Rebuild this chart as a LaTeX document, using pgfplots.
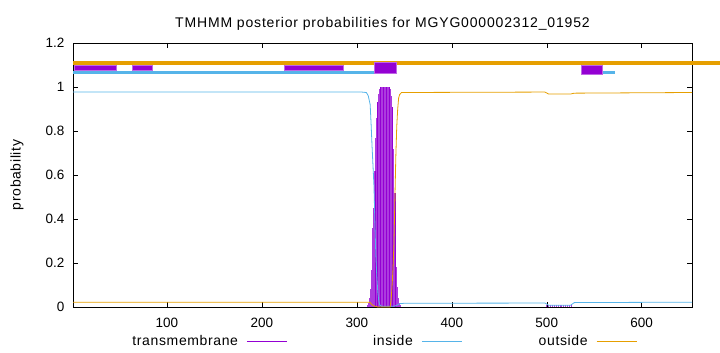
\documentclass[border=0pt]{standalone}
\usepackage{pgfplots}
\pgfplotsset{compat=1.18}
\usepackage{fontspec}
\setmainfont{Liberation Sans}
\newfontfamily\lblfont[LetterSpace=4.5]{Liberation Sans}
\newfontfamily\ttlfont[LetterSpace=6]{Liberation Sans}
\definecolor{tmcol}{RGB}{148,0,211}
\definecolor{tmfill}{RGB}{172,60,222}
\definecolor{incol}{RGB}{86,180,233}
\definecolor{outcol}{RGB}{230,159,0}
\pgfplotsset{/pgfplots/legend image code/.code={\draw[#1] (0bp,0bp) -- (40bp,0bp);}}
\begin{document}
\fontsize{13.5bp}{16bp}\selectfont
\begin{tikzpicture}[x=1bp,y=1bp]
\useasboundingbox (0,0) rectangle (720,352);
\begin{axis}[
  at={(73bp,45bp)}, anchor=south west, scale only axis,
  width=619bp, height=264bp,
  xmin=1, xmax=653, ymin=0, ymax=1.2,
  clip=false,
  xtick={100,200,300,400,500,600},
  ytick={0,0.2,0.4,0.6,0.8,1,1.2},
  yticklabels={0,0.2,0.4,0.6,0.8,1,1.2},
  /pgf/number format/assume math mode=true,
  tick align=inside, major tick length=5bp,
  every tick/.style={black, line width=0.5bp},
  axis line style={black, line width=0.8bp},
  tick label style={font=\fontsize{13.5bp}{16bp}\selectfont},
  xticklabel style={yshift=-6bp},
  yticklabel style={xshift=-4bp},
  title={TMHMM posterior probabilities for MGYG000002312\_01952},
  every axis title/.style={at={(axis description cs:0.5,1)}, anchor=base, yshift=15.7bp, font=\fontsize{14bp}{16bp}\ttlfont},
  ylabel={probability},
  ylabel style={at={(axis description cs:-0.0905,0.5)}, anchor=center, rotate=0, font=\fontsize{14bp}{16bp}\lblfont},
  legend columns=3,
  legend style={draw=none, fill=none, at={(axis description cs:0.5,-0.129)}, anchor=center,
    font=\fontsize{14bp}{16bp}\lblfont, nodes={inner sep=0pt},
    /tikz/every odd column/.append style={column sep=8.5bp},
    /tikz/every even column/.append style={column sep=15.5bp}},
  legend plot pos=right,
]
\addlegendimage{tmcol, line width=0.8bp}
\addlegendentry{\makebox[110bp][r]{transmembrane}}
\addlegendimage{incol, line width=0.8bp}
\addlegendentry{\makebox[110bp][r]{inside}}
\addlegendimage{outcol, line width=0.8bp}
\addlegendentry{\makebox[110bp][r]{outside}}

% top tracks
\addplot[forget plot, outcol, line width=4bp] coordinates {(1,1.108) (682,1.108)};
\addplot[forget plot, incol, line width=3bp] coordinates {(1,1.068) (318,1.068)};
\addplot[forget plot, incol, line width=3bp] coordinates {(559,1.065) (572,1.065)};
% boxes
\addplot[forget plot, fill=tmcol, draw=tmcol!60!white, line width=0.6bp] coordinates {(2,1.074) (47,1.074) (47,1.097) (2,1.097)} -- cycle;
\addplot[forget plot, fill=tmcol, draw=tmcol!60!white, line width=0.6bp] coordinates {(63,1.074) (85,1.074) (85,1.097) (63,1.097)} -- cycle;
\addplot[forget plot, fill=tmcol, draw=tmcol!60!white, line width=0.6bp] coordinates {(224,1.074) (286,1.074) (286,1.097) (224,1.097)} -- cycle;
\addplot[forget plot, fill=tmcol, draw=tmcol!60!white, line width=0.6bp] coordinates {(318,1.062) (341,1.062) (341,1.11) (318,1.11)} -- cycle;
\addplot[forget plot, fill=tmcol, draw=tmcol!60!white, line width=0.6bp] coordinates {(536,1.059) (558,1.059) (558,1.097) (536,1.097)} -- cycle;

% TM posterior impulses
\addplot[forget plot, ycomb, tmfill, line width=1.05bp] coordinates {
(310,0.00) (311,0.01) (312,0.02) (313,0.04) (314,0.08) (315,0.17) (316,0.27) (317,0.36)
(318,0.45) (319,0.62) (320,0.77) (321,0.86) (322,0.93) (323,0.97) (324,0.99) (325,1.0)
(326,1.0) (327,1.0) (328,1.0) (329,1.0) (330,1.0) (331,1.0) (332,1.0) (333,1.0) (334,1.0)
(335,0.99) (336,0.96) (337,0.91) (338,0.83) (339,0.72) (340,0.52) (341,0.32) (342,0.18)
(343,0.09) (344,0.04) (345,0.02) (346,0.01)
(500,0.008) (502,0.009) (504,0.01) (506,0.01) (508,0.01) (510,0.01) (512,0.01) (514,0.01)
(516,0.01) (518,0.01) (520,0.01) (522,0.01) (524,0.009) (526,0.008)};
\addplot[forget plot, ycomb, tmcol, line width=0.6bp] coordinates {
(319,0.62) (322,0.93) (325,1.0) (328,1.0) (331,1.0) (334,1.0) (337,0.91) (340,0.52)};

% inside
\addplot[forget plot, incol, line width=0.8bp] coordinates {
(1,0.977) (305,0.977) (310,0.975) (312,0.96) (314,0.92) (315,0.83) (316,0.73) (317,0.64)
(318,0.55) (319,0.38) (320,0.23) (321,0.14) (322,0.07) (323,0.03) (324,0.01) (326,0.003)
(338,0.003) (341,0.006) (343,0.01) (345,0.015) (350,0.017) (498,0.018) (502,0.008)
(525,0.008) (529,0.02) (653,0.022)};
% outside
\addplot[forget plot, outcol, line width=0.8bp] coordinates {
(1,0.022) (312,0.022) (314,0.02) (316,0.01) (318,0.005) (322,0.0) (335,0.0) (336,0.03)
(337,0.09) (338,0.17) (339,0.28) (340,0.48) (341,0.68) (342,0.82) (343,0.9) (344,0.95)
(345,0.965) (347,0.975) (498,0.977) (502,0.968) (525,0.968) (529,0.972) (653,0.975)};
\end{axis}
\end{tikzpicture}
\end{document}
